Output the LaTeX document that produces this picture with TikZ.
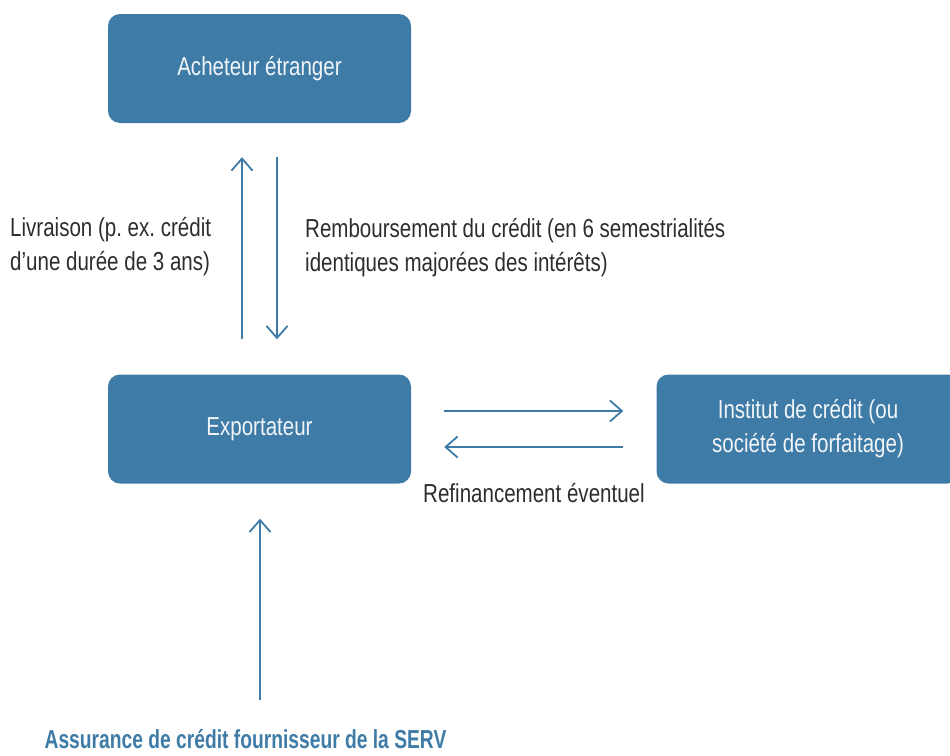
\documentclass[tikz,border=0pt]{standalone}
\usepackage{fontspec}
\setmainfont[FakeStretch=0.79, BoldFeatures={FakeStretch=0.74}]{Liberation Sans}
\usepackage{xcolor}
\usepackage{tikz}
\usetikzlibrary{arrows.meta, positioning, calc}
\definecolor{servblue}{RGB}{62, 123, 166}
\definecolor{textdark}{RGB}{45, 45, 45}
\definecolor{boxtext}{RGB}{242, 245, 248}
\frenchspacing

\tikzset{
    partybox/.style={fill=servblue, rounded corners=12pt, minimum width=303pt, minimum height=109pt,
        text=boxtext, align=center, font=\fontsize{26}{34}\selectfont},
    flowarrow/.style={draw=servblue, line width=1.8pt, -{Straight Barb[length=12pt, width=21pt]}},
    caption/.style={text=textdark, align=left, inner sep=0pt, font=\fontsize{26}{34}\selectfont}
}

\begin{document}
\begin{tikzpicture}[x=1pt, y=-1pt]
    \useasboundingbox (0,0) rectangle (950,755);
    \clip (0,0) rectangle (950,755);

    % parties
    \node[partybox] (acheteur) at (259.5,68.5) {Acheteur étranger};
    \node[partybox] (export) at (259.5,429) {Exportateur};
    \node[partybox] (institut) at (808,429) {Institut de crédit (ou\\société de forfaitage)};

    % labels
    \node[caption, anchor=west] (livraison) at (10,247) {Livraison (p. ex. crédit\\d’une durée de 3 ans)};
    \node[caption, anchor=west] (rembours) at (305,248) {Remboursement du crédit (en 6 semestrialités\\identiques majorées des intérêts)};
    \node[caption] (refin) at (534,493) {Refinancement éventuel};
    \node[
        text=servblue,
        inner sep=0pt,
        font=\fontsize{26}{30}\selectfont\bfseries
    ] (serv) at (245.5,739) {Assurance de crédit fournisseur de la SERV};
    \coordinate (servtop) at (260,700);

    % flows
    \draw[flowarrow, shorten <=35pt, shorten >=34pt] ([xshift=-17.5pt]export.north) -- ([xshift=-17.5pt]acheteur.south);
    \draw[flowarrow, shorten <=34pt, shorten >=35pt] ([xshift=17.5pt]acheteur.south) -- ([xshift=17.5pt]export.north);
    \draw[flowarrow, shorten <=33pt, shorten >=33pt] ([yshift=18pt]export.east) -- ([yshift=18pt]export.east -| institut.west);
    \draw[flowarrow, shorten <=33pt, shorten >=33pt] ([yshift=-18pt]export.east -| institut.west) -- ([yshift=-18pt]export.east);
    \draw[flowarrow, shorten >=35pt] (servtop) -- (servtop |- export.south);
\end{tikzpicture}
\end{document}
